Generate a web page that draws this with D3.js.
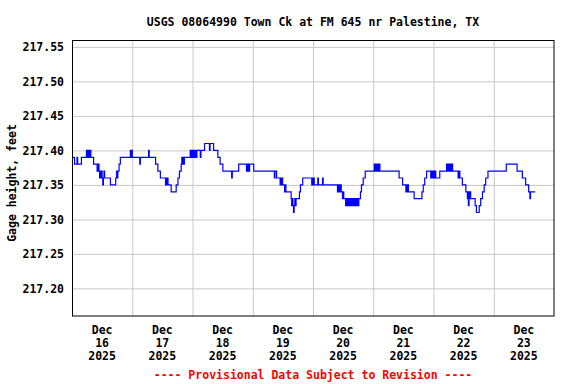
<!DOCTYPE html>
<html>
<head>
<meta charset="utf-8">
<script src="https://cdn.jsdelivr.net/npm/d3@7"></script>
<style>
  body { margin: 0; background: #fff; }
  text { font-family: "DejaVu Sans Mono", monospace; font-weight: bold; font-size: 11.5px; fill: #000; }
</style>
</head>
<body>
<div id="chart"></div>
<script>
// gage readings per day: [hour of day, gage height in feet], each holds until the next one
const dec16 = [
  [0, 217.39], [1, 217.38], [2, 217.39], [2.25, 217.38], [3.75, 217.39],
  [5.75, 217.40], [6, 217.39], [6.25, 217.40], [6.5, 217.39], [6.75, 217.40], [7, 217.39], [7.25, 217.40], [7.5, 217.39],
  [8.6, 217.38], [10, 217.37], [10.5, 217.38], [10.75, 217.37], [11, 217.36], [11.25, 217.37], [11.5, 217.36],
  [11.75, 217.37], [12, 217.36], [12.25, 217.35], [12.5, 217.36], [12.75, 217.37], [13, 217.36],
  [15.3, 217.35], [17.4, 217.36], [17.75, 217.37], [18, 217.36], [18.25, 217.37], [18.5, 217.37], [18.75, 217.38],
  [19.25, 217.39], [23.25, 217.40], [23.5, 217.39], [23.75, 217.40]
];
const dec17 = [
  [0, 217.39], [3, 217.38], [3.25, 217.39], [6.5, 217.40], [6.75, 217.39],
  [9.3, 217.38], [10.2, 217.37], [11.2, 217.36],
  [13.25, 217.35], [13.5, 217.36], [13.75, 217.35], [14, 217.36], [14.25, 217.35],
  [15.5, 217.34], [17.5, 217.35], [18.2, 217.36], [18.8, 217.37],
  [19.5, 217.38], [19.75, 217.39], [20, 217.38], [20.25, 217.39], [20.5, 217.38], [20.75, 217.39],
  [23.1, 217.40], [23.25, 217.39], [23.5, 217.40], [23.75, 217.39]
];
const dec18 = [
  [0, 217.40], [0.25, 217.39], [0.5, 217.40], [0.75, 217.39], [1, 217.40], [1.5, 217.39], [1.75, 217.40],
  [3.1, 217.39], [3.35, 217.40], [4.8, 217.41], [6.75, 217.40], [7, 217.41],
  [8.4, 217.40], [10.1, 217.39], [11, 217.38], [12.1, 217.37], [15.6, 217.36], [15.85, 217.37],
  [18.4, 217.38], [21.5, 217.37], [21.75, 217.38], [22, 217.37], [22.25, 217.38], [22.5, 217.37], [22.75, 217.38]
];
const dec19 = [
  [0.4, 217.37], [8.6, 217.36], [8.85, 217.37], [9.5, 217.36],
  [10.9, 217.35], [11.15, 217.36], [11.4, 217.35], [11.65, 217.36], [11.9, 217.35],
  [12.7, 217.34], [12.95, 217.35], [13.2, 217.34],
  [15.3, 217.33], [15.5, 217.32], [15.75, 217.33], [16, 217.32], [16.25, 217.31], [16.5, 217.32],
  [16.75, 217.33], [17, 217.32], [17.25, 217.33],
  [18.6, 217.34], [19, 217.35], [19.9, 217.36], [23.5, 217.35], [23.75, 217.36]
];
const dec20 = [
  [0, 217.35], [0.25, 217.36], [0.5, 217.35], [1.9, 217.36], [2.15, 217.35], [3.8, 217.36], [4.05, 217.35],
  [9.75, 217.34], [10, 217.35], [10.25, 217.34], [10.5, 217.35], [10.75, 217.34], [11, 217.35], [11.25, 217.34],
  [11.75, 217.33], [12, 217.34], [12.25, 217.33],
  [13, 217.32], [13.25, 217.33], [13.5, 217.32], [13.75, 217.33], [14, 217.32], [14.25, 217.33],
  [14.5, 217.32], [14.75, 217.33], [15, 217.32], [15.25, 217.33], [15.5, 217.32], [15.75, 217.33],
  [16, 217.32], [16.25, 217.33], [16.5, 217.32], [16.75, 217.33], [17, 217.32], [17.25, 217.33],
  [17.5, 217.32], [17.75, 217.33], [18, 217.32], [18.25, 217.33],
  [18.9, 217.34], [19.3, 217.35], [20, 217.36], [20.8, 217.37]
];
const dec21 = [
  [0.4, 217.38], [0.65, 217.37], [0.9, 217.38], [1.15, 217.37], [1.4, 217.38], [1.65, 217.37],
  [1.9, 217.38], [2.15, 217.37], [2.4, 217.38], [2.65, 217.37],
  [10.3, 217.36], [11.7, 217.35],
  [13, 217.34], [13.25, 217.35], [13.5, 217.34], [13.75, 217.35], [14, 217.34], [14.4, 217.34],
  [16.3, 217.33], [19.4, 217.34], [19.9, 217.35], [20.5, 217.36], [21.25, 217.37],
  [22.9, 217.36], [23.15, 217.37], [23.4, 217.36], [23.65, 217.37], [23.9, 217.36]
];
const dec22 = [
  [0.15, 217.37], [0.4, 217.36], [0.65, 217.37], [0.9, 217.36], [2.5, 217.37],
  [5.2, 217.38], [5.45, 217.37], [5.7, 217.38], [5.95, 217.37], [6.2, 217.38], [6.45, 217.37],
  [6.7, 217.38], [6.95, 217.37], [7.2, 217.38], [7.6, 217.37],
  [9.8, 217.36], [10.05, 217.37], [10.5, 217.36], [11.5, 217.35], [12.9, 217.34],
  [13.5, 217.33], [13.75, 217.34], [13.9, 217.32], [14.15, 217.34], [14.4, 217.33], [14.6, 217.34], [14.8, 217.33],
  [16.6, 217.32], [17.1, 217.31], [18.2, 217.32], [18.8, 217.33], [19.5, 217.34],
  [20.2, 217.35], [20.8, 217.36], [21.7, 217.37]
];
const dec23 = [
  [0, 217.37], [5, 217.38], [9.3, 217.37], [11.4, 217.36], [12.7, 217.35], [13.9, 217.34],
  [14.4, 217.33], [14.65, 217.34], [16.5, 217.34]
];
const dayReadings = [dec16, dec17, dec18, dec19, dec20, dec21, dec22, dec23];

const yTicks = [217.20, 217.25, 217.30, 217.35, 217.40, 217.45, 217.50, 217.55];
const dayLabels = ["16", "17", "18", "19", "20", "21", "22", "23"];
const titleText = "USGS 08064990 Town Ck at FM 645 nr Palestine, TX";
const yTitle = "Gage height, feet";
const footerText = "---- Provisional Data Subject to Revision ----";

const W = 576, H = 384;
const margin = { top: 40, right: 22, bottom: 68, left: 72 };
const width = W - margin.left - margin.right,
      height = H - margin.top - margin.bottom;

const dayStart = i => new Date(Date.UTC(2025, 11, 16 + i));
const data = [];
dayReadings.forEach((day, i) => {
  day.forEach(([hr, v]) => data.push({ t: new Date(dayStart(i).getTime() + hr * 3600e3), v }));
});

const svg = d3.select("#chart").append("svg")
    .attr("width", W)
    .attr("height", H);

const g = svg.append("g")
    .attr("transform", `translate(${margin.left},${margin.top})`);

const x = d3.scaleUtc().domain([dayStart(0), dayStart(8)]).range([0, width]);
const y = d3.scaleLinear().domain([217.16, 217.56]).range([height, 0]);

// grid
g.append("g")
    .attr("class", "grid")
    .call(d3.axisLeft(y).tickValues(yTicks).tickSize(-width).tickFormat(""))
    .call(s => s.select(".domain").remove())
    .call(s => s.selectAll("line").attr("stroke", "#c8c8c8"));

g.append("g")
    .attr("class", "grid")
    .attr("transform", `translate(0,${height})`)
    .call(d3.axisBottom(x).tickValues(d3.range(1, 8).map(dayStart)).tickSize(-height).tickFormat(""))
    .call(s => s.select(".domain").remove())
    .call(s => s.selectAll("line").attr("stroke", "#c8c8c8"));

// y labels
g.append("g")
    .call(d3.axisLeft(y).tickValues(yTicks).tickSize(0).tickPadding(8).tickFormat(d3.format(".2f")))
    .call(s => s.select(".domain").remove())
    .call(s => s.selectAll("text").attr("fill", "#000").style("font-size", null).style("font-family", null));

// x labels, centered on noon of each day
const xl = g.append("g").attr("transform", `translate(0,${height})`);
dayLabels.forEach((lab, i) => {
  const cx = x(new Date(dayStart(i).getTime() + 12 * 3600e3));
  const t = xl.append("text").attr("text-anchor", "middle");
  ["Dec", lab, "2025"].forEach((s, k) => {
    t.append("tspan").attr("x", cx).attr("y", 18.3 + k * 12.9).text(s);
  });
});

// data line
const line = d3.line()
    .x(d => x(d.t))
    .y(d => y(d.v))
    .curve(d3.curveStepAfter);

g.append("path")
    .datum(data)
    .attr("fill", "none")
    .attr("stroke", "#0000ff")
    .attr("stroke-width", 1.2)
    .attr("d", line);

// frame
g.append("rect")
    .attr("x", 0.5).attr("y", 0.5)
    .attr("width", width - 0.5).attr("height", height - 0.5)
    .attr("fill", "none")
    .attr("stroke", "#000")
    .attr("stroke-width", 1);

svg.append("text")
    .attr("x", margin.left + width / 2)
    .attr("y", 25.5)
    .attr("text-anchor", "middle")
    .text(titleText);

svg.append("text")
    .attr("transform", `translate(15.5,${margin.top + height / 2 + 5}) rotate(-90)`)
    .attr("text-anchor", "middle")
    .text(yTitle);

svg.append("text")
    .attr("x", margin.left + width / 2)
    .attr("y", 379)
    .attr("text-anchor", "middle")
    .style("fill", "#ff0000")
    .text(footerText);
</script>
</body>
</html>
